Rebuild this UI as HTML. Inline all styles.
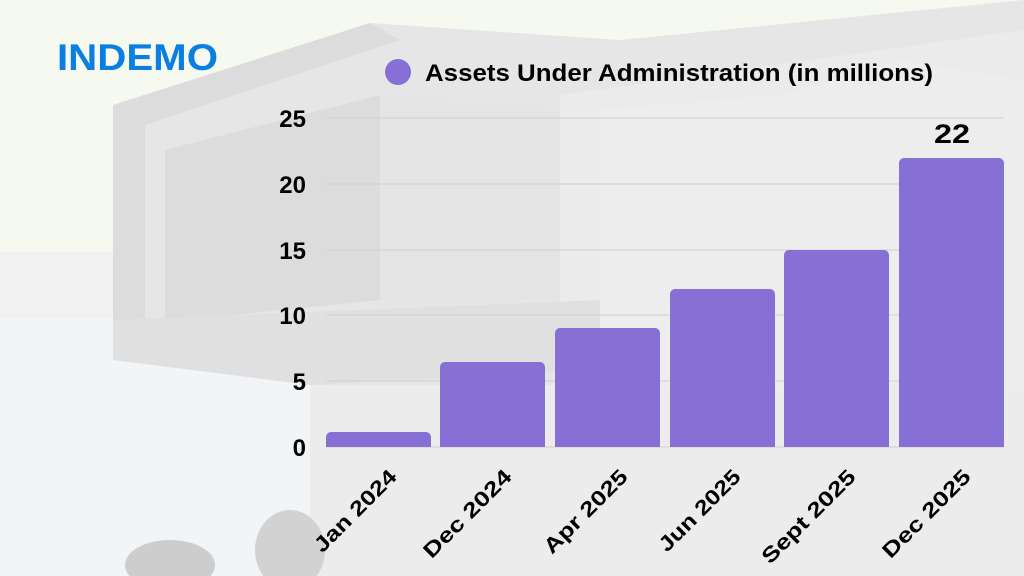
<!DOCTYPE html>
<html><head><meta charset="utf-8"><style>
html,body{margin:0;padding:0;width:1024px;height:576px;overflow:hidden;background:#f6f9ef}
svg{display:block}
text{font-family:"Liberation Sans",sans-serif;font-weight:bold;fill:#000}
</style></head><body>
<svg width="1024" height="576" viewBox="0 0 1024 576" xmlns="http://www.w3.org/2000/svg">
<rect x="0" y="0" width="1024" height="576" fill="#f6f9ef"/>
<rect x="0" y="252" width="1024" height="324" fill="#f0f1f0"/>
<rect x="0" y="318" width="320" height="258" fill="#f1f5f8"/>
<!-- house -->
<polygon points="113,105 370,23 620,40 1024,0 1024,576 310,576 310,375 113,360" fill="#e6e6e6"/>
<polygon points="560,95 1024,30 1024,576 560,576" fill="#ebebeb"/>
<polygon points="113,105 370,23 400,40 145,125 145,350 113,360" fill="#dcdcdc"/>
<polygon points="165,150 380,95 380,300 165,322" fill="#dcdcdc"/>
<polygon points="380,95 560,110 560,300 380,300" fill="#e5e5e5"/>
<polygon points="600,110 780,95 900,60 1024,80 1024,576 600,576" fill="#ededed"/>
<polygon points="113,320 600,300 600,370 310,385 113,360" fill="#e0e0e0"/>
<rect x="310" y="385" width="714" height="191" fill="#ececec"/>
<ellipse cx="170" cy="565" rx="45" ry="25" fill="#cdcdcd"/>
<ellipse cx="290" cy="550" rx="35" ry="40" fill="#d2d2d2"/>
<!-- logo -->
<text x="57" y="70" font-size="37" textLength="161" lengthAdjust="spacingAndGlyphs" style="fill:#0a7fe0;font-weight:900">INDEMO</text>
<!-- legend -->
<circle cx="398" cy="72" r="13" fill="#8670d6"/>
<text x="425" y="81" font-size="24" textLength="508" lengthAdjust="spacingAndGlyphs">Assets Under Administration (in millions)</text>
<!-- grid -->
<g stroke="#cfcfcf" stroke-width="1">
<line x1="326" y1="118" x2="1004" y2="118"/>
<line x1="326" y1="184" x2="1004" y2="184"/>
<line x1="326" y1="250" x2="1004" y2="250"/>
<line x1="326" y1="315" x2="1004" y2="315"/>
<line x1="326" y1="381" x2="1004" y2="381"/>
<line x1="326" y1="447" x2="1004" y2="447"/>
</g>
<g font-size="24" text-anchor="end">
<text x="306" y="127">25</text>
<text x="306" y="193">20</text>
<text x="306" y="259">15</text>
<text x="306" y="324">10</text>
<text x="306" y="390">5</text>
<text x="306" y="456">0</text>
</g>
<!-- bars -->
<g fill="#8670d6">
<path d="M326,447V437a5,5 0 0 1 5,-5H426a5,5 0 0 1 5,5V447Z"/>
<path d="M440,447V367a5,5 0 0 1 5,-5H540a5,5 0 0 1 5,5V447Z"/>
<path d="M555,447V333a5,5 0 0 1 5,-5H655a5,5 0 0 1 5,5V447Z"/>
<path d="M670,447V294a5,5 0 0 1 5,-5H770a5,5 0 0 1 5,5V447Z"/>
<path d="M784,447V255a5,5 0 0 1 5,-5H884a5,5 0 0 1 5,5V447Z"/>
<path d="M899,447V163a5,5 0 0 1 5,-5H999a5,5 0 0 1 5,5V447Z"/>
</g>
<text x="952" y="143" font-size="27" text-anchor="middle" textLength="36" lengthAdjust="spacingAndGlyphs">22</text>
<g font-size="21" text-anchor="end">
<text transform="translate(398,478) rotate(-45)" textLength="107" lengthAdjust="spacingAndGlyphs">Jan 2024</text>
<text transform="translate(513,478) rotate(-45)" textLength="115" lengthAdjust="spacingAndGlyphs">Dec 2024</text>
<text transform="translate(629,478) rotate(-45)" textLength="109" lengthAdjust="spacingAndGlyphs">Apr 2025</text>
<text transform="translate(742,478) rotate(-45)" textLength="106" lengthAdjust="spacingAndGlyphs">Jun 2025</text>
<text transform="translate(857,478) rotate(-45)" textLength="123" lengthAdjust="spacingAndGlyphs">Sept 2025</text>
<text transform="translate(972,478) rotate(-45)" textLength="115" lengthAdjust="spacingAndGlyphs">Dec 2025</text>
</g>
</svg>
</body></html>
